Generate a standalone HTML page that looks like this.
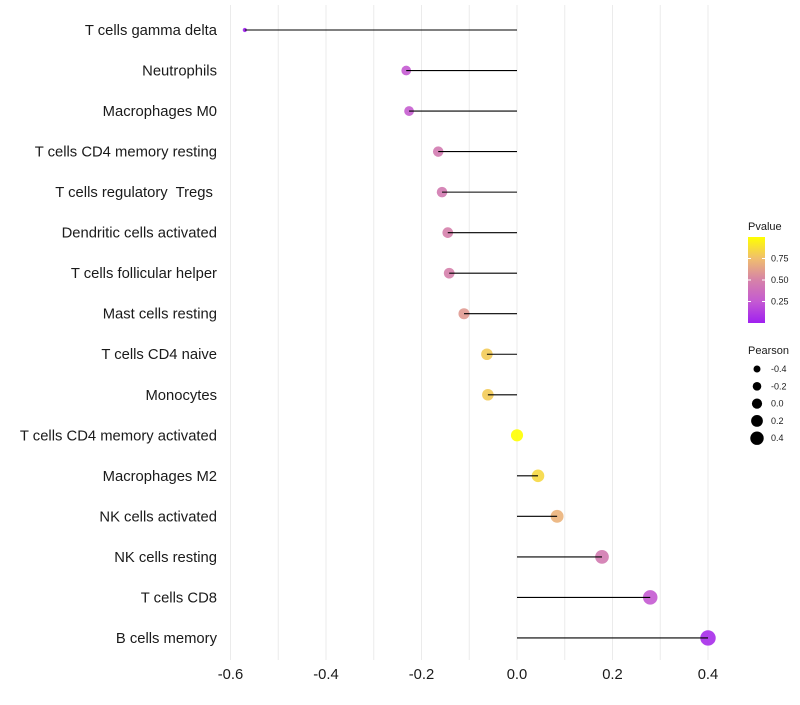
<!DOCTYPE html>
<html><head><meta charset="utf-8"><style>
body{margin:0;background:#fff;font-family:"Liberation Sans",sans-serif}
text{white-space:pre}
</style></head><body>
<svg id="c" width="800" height="700" xmlns="http://www.w3.org/2000/svg" font-family="Liberation Sans, sans-serif"></svg>
<script>
const categories=["T cells gamma delta","Neutrophils","Macrophages M0","T cells CD4 memory resting","T cells regulatory  Tregs ","Dendritic cells activated","T cells follicular helper","Mast cells resting","T cells CD4 naive","Monocytes","T cells CD4 memory activated","Macrophages M2","NK cells activated","NK cells resting","T cells CD8","B cells memory"];
const pearson=[-0.570,-0.232,-0.226,-0.165,-0.157,-0.145,-0.142,-0.111,-0.063,-0.061,0.0,0.044,0.084,0.178,0.279,0.400];
const pvalue=[0.0,0.25,0.27,0.45,0.45,0.48,0.48,0.6,0.8,0.8,1.0,0.85,0.7,0.45,0.25,0.05];
const xTicks=[-0.6,-0.4,-0.2,0.0,0.2,0.4];
const xTickLabels=["-0.6","-0.4","-0.2","0.0","0.2","0.4"];
const gridVals=[-0.6,-0.5,-0.4,-0.3,-0.2,-0.1,0,0.1,0.2,0.3,0.4];
const sizeLegend=[-0.4,-0.2,0.0,0.2,0.4];
const colorTicks=[0.25,0.5,0.75];
const NS="http://www.w3.org/2000/svg";
const svg=document.getElementById('c');
function el(t,a,p){const e=document.createElementNS(NS,t);for(const k in a)e.setAttribute(k,a[k]);(p||svg).appendChild(e);return e;}
const x=v=>517+v*477.5;
const y=i=>30+i*40.53;
const stops=[[0,[160,32,240]],[0.25,[196,90,210]],[0.5,[214,130,168]],[0.75,[240,190,110]],[1,[255,255,0]]];
function col(p){for(let i=0;i<stops.length-1;i++){const[a,ca]=stops[i],[b,cb]=stops[i+1];if(p<=b){const t=(p-a)/(b-a);return 'rgb('+ca.map((c,j)=>Math.round(c+(cb[j]-c)*t)).join(',')+')';}}return 'rgb(255,255,0)';}
const pmin=-0.57,pmax=0.40;
const rad=v=>Math.sqrt(4+Math.max(0,(v-pmin)/(pmax-pmin))*50);
gridVals.forEach(v=>{const g=el('line',{x1:x(v),x2:x(v),y1:5,y2:660,stroke:'#ebebeb','stroke-width':1});});
categories.forEach((c,i)=>{
 const t=el('text',{x:217,y:y(i)+5,'text-anchor':'end','font-size':14.8,fill:'#1a1a1a','xml:space':'preserve'});t.textContent=c;
 
 const pt=el('circle',{cx:x(pearson[i]),cy:y(i),r:rad(pearson[i])*1.05,fill:col(pvalue[i]),'fill-opacity':0.9});
 
 const s=el('line',{x1:x(0),x2:x(pearson[i]),y1:y(i),y2:y(i),stroke:'#000','stroke-width':1.1});
 
});
xTicks.forEach((v,i)=>{const t=el('text',{x:x(v),y:679,'text-anchor':'middle','font-size':14.8,fill:'#1a1a1a'});t.textContent=xTickLabels[i];});
const defs=el('defs',{});const lg=el('linearGradient',{id:'g',x1:0,y1:1,x2:0,y2:0},defs);
stops.forEach(s=>el('stop',{offset:s[0],'stop-color':'rgb('+s[1].join(',')+')'},lg));
const lt=el('text',{x:748,y:230,'font-size':11,fill:'#1a1a1a'});lt.textContent='Pvalue';
const bar=el('rect',{x:748,y:237,width:17,height:86,fill:'url(#g)'});
colorTicks.forEach(v=>{const yy=323-v*86;el('line',{x1:748,x2:751,y1:yy,y2:yy,stroke:'#fff'});el('line',{x1:762,x2:765,y1:yy,y2:yy,stroke:'#fff'});
 const t=el('text',{x:771,y:yy+3,'font-size':9,fill:'#1a1a1a'});t.textContent=v.toFixed(2);});
const st=el('text',{x:748,y:354,'font-size':11,fill:'#1a1a1a'});st.textContent='Pearson';
sizeLegend.forEach((v,i)=>{const yy=369+i*17.3;const c=el('circle',{cx:757,cy:yy,r:3.5+i*0.8,fill:'#000'});
 const t=el('text',{x:771,y:yy+3,'font-size':9,fill:'#1a1a1a'});t.textContent=v.toFixed(1);});
</script>
</body></html>
